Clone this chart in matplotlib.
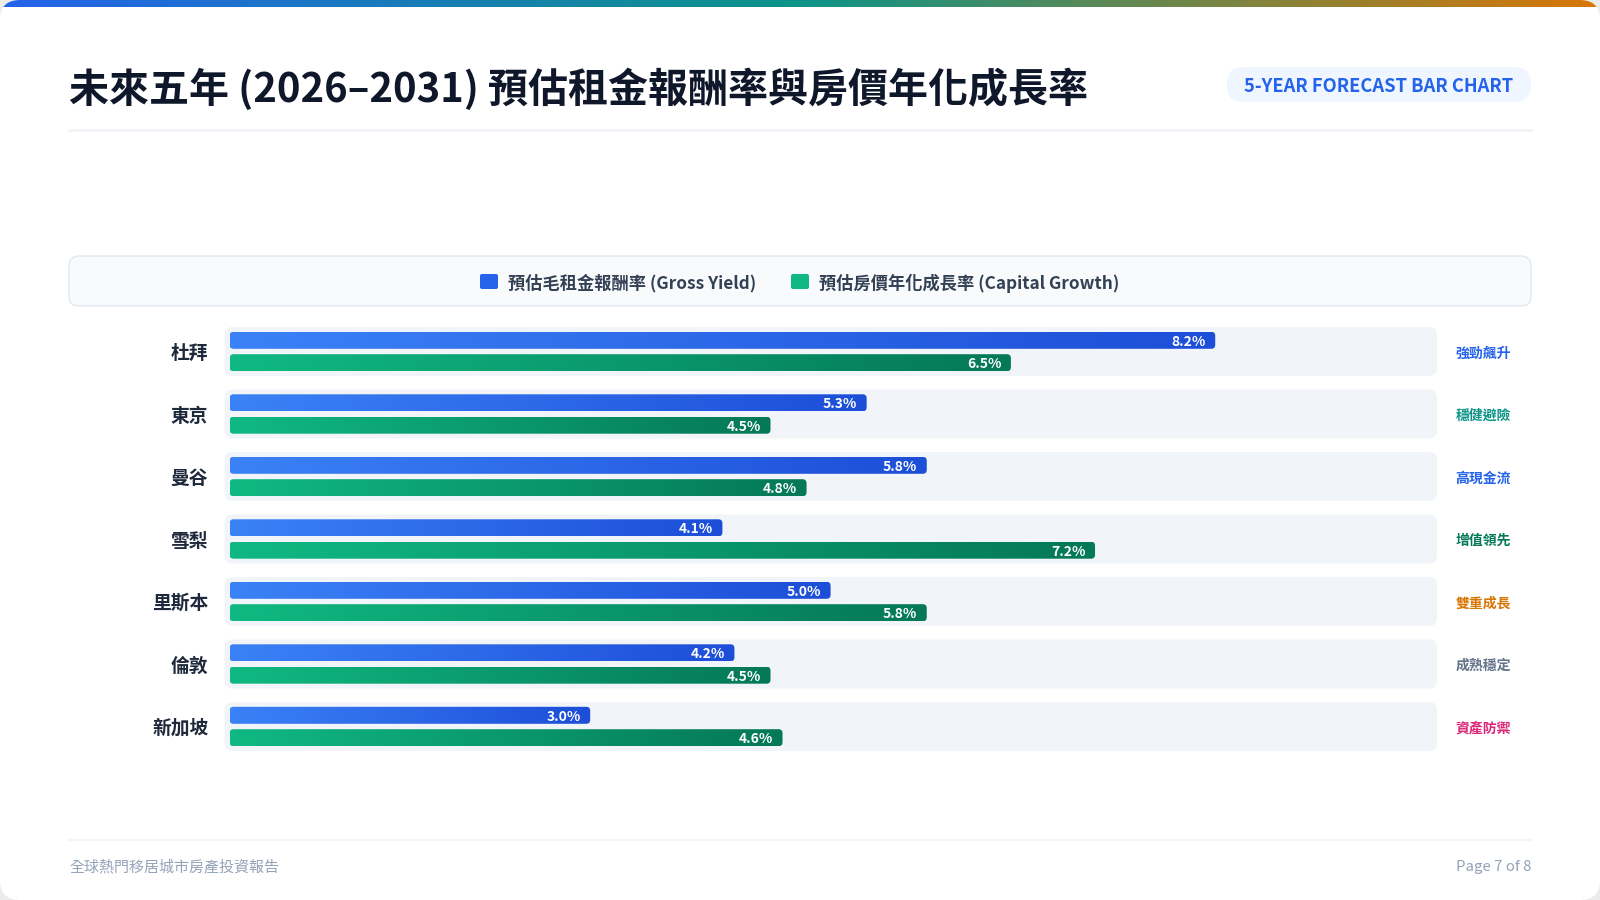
import numpy as np
import matplotlib.pyplot as plt
from matplotlib.patches import FancyBboxPatch
from matplotlib.colors import LinearSegmentedColormap

plt.rcParams['font.family'] = ['Noto Sans CJK TC', 'DejaVu Sans']

# data
cities = ['杜拜', '東京', '曼谷', '雪梨', '里斯本', '倫敦', '新加坡']
gross_yield = [8.2, 5.3, 5.8, 4.1, 5.0, 4.2, 3.0]
capital_growth = [6.5, 4.5, 4.8, 7.2, 5.8, 4.5, 4.6]
tags = ['強勁飆升', '穩健避險', '高現金流', '增值領先', '雙重成長', '成熟穩定', '資產防禦']
tag_colors = ['#2563eb', '#0d9488', '#2563eb', '#047857', '#d97706', '#64748b', '#db2777']
series_names = ['預估毛租金報酬率 (Gross Yield)', '預估房價年化成長率 (Capital Growth)']
x_max = 10

W, H = 1600, 900
fig = plt.figure(figsize=(16, 9), dpi=100, facecolor='#ececec')

# background / page decorations in pixel coordinates
bg = fig.add_axes([0, 0, 1, 1])
bg.set_xlim(0, W)
bg.set_ylim(H, 0)
bg.axis('off')

card = FancyBboxPatch((0, 0), W, H, boxstyle='round,pad=0,rounding_size=20',
                      fc='white', ec='none', zorder=1)
bg.add_patch(card)
top_cmap = LinearSegmentedColormap.from_list('top', ['#2563eb', '#0d9488', '#d97706'])
im = bg.imshow(np.linspace(0, 1, 256)[None, :], cmap=top_cmap,
               extent=[0, W, 7, 0], aspect='auto', zorder=2)
im.set_clip_path(card)

bg.text(69, 90, '未來五年 (2026–2031) 預估租金報酬率與房價年化成長率',
        fontsize=28.8, fontweight='bold', color='#0f172a', ha='left', va='center')
bg.add_patch(FancyBboxPatch((1227, 67), 304, 35, boxstyle='round,pad=0,rounding_size=17',
                            fc='#eff6ff', ec='none', zorder=2))
bg.text(1379, 86, '5-YEAR FORECAST BAR CHART', fontsize=13.2, fontweight='bold',
        color='#2563eb', ha='center', va='center', zorder=3)
bg.plot([69, 1531], [130, 130], color='#f1f5f9', lw=2, zorder=2)

# legend box
bg.add_patch(FancyBboxPatch((69, 256), 1462, 50, boxstyle='round,pad=0,rounding_size=10',
                            fc='#f8fafc', ec='#e2e8f0', lw=1, zorder=2))
leg_colors = ['#2563eb', '#10b981']
leg_x = [480, 791]
for name, c, lx in zip(series_names, leg_colors, leg_x):
    bg.add_patch(FancyBboxPatch((lx, 274), 18, 15, boxstyle='round,pad=0,rounding_size=2',
                                fc=c, ec='none', zorder=3))
    bg.text(lx + 28, 283, name, fontsize=12.4, fontweight='bold', color='#334155',
            ha='left', va='center', zorder=3)

# footer
bg.plot([69, 1531], [840, 840], color='#f1f5f9', lw=1.5, zorder=2)
bg.text(69, 867, '全球熱門移居城市房產投資報告', fontsize=10.8, color='#94a3b8',
        ha='left', va='center', zorder=3)
bg.text(1531, 867, 'Page 7 of 8', fontsize=10.8, color='#94a3b8', ha='right', va='center',
        zorder=3)

# chart axes
px_unit = 120.2          # pixels per 1 %
row_px = 62.5            # pixels per row
x0_px, y0_px = 229.6, 351.5
left_px = x0_px - 0.05 * px_unit
right_px = x0_px + (x_max + 0.05) * px_unit
top_px = y0_px - 0.5 * row_px
bot_px = y0_px + (len(cities) - 0.5) * row_px
ax = fig.add_axes([left_px / W, 1 - bot_px / H, (right_px - left_px) / W, (bot_px - top_px) / H])
ax.set_facecolor('none')
asp = px_unit / row_px

blue_cmap = LinearSegmentedColormap.from_list('blue', ['#3b82f6', '#1d4ed8'])
green_cmap = LinearSegmentedColormap.from_list('green', ['#10b981', '#047857'])


def grad_bar(x0, y0, w, h, cmap, r):
    patch = FancyBboxPatch((x0, y0), w, h, boxstyle=f'round,pad=0,rounding_size={r}',
                           mutation_aspect=asp, fc='none', ec='none')
    ax.add_patch(patch)
    img = ax.imshow(np.linspace(0, 1, 256)[None, :], cmap=cmap,
                    extent=[x0, x0 + w, y0 + h, y0], aspect='auto', zorder=3)
    img.set_clip_path(patch)


bar_h = 17 / row_px
off = 11.2 / row_px
rad = 4 / px_unit
for i in range(len(cities)):
    ax.add_patch(FancyBboxPatch((-0.042, i - 0.392), 10.087, 0.784,
                                boxstyle=f'round,pad=0,rounding_size={8 / px_unit}',
                                mutation_aspect=asp, fc='#f1f5f9', ec='none', zorder=1))
    for val, dy, cmap in [(gross_yield[i], -off, blue_cmap), (capital_growth[i], off, green_cmap)]:
        grad_bar(0, i + dy - bar_h / 2, val, bar_h, cmap, rad)
        ax.text(val - 0.08, i + dy + 0.025, f'{val:.1f}%', fontsize=10, fontweight='bold',
                color='white', ha='right', va='center', zorder=4)
    ax.text(10.2, i + 0.03, tags[i], fontsize=10, fontweight='bold', color=tag_colors[i],
            ha='left', va='center', clip_on=False)

ax.set_xlim(-0.05, x_max + 0.05)
ax.set_ylim(len(cities) - 0.5, -0.5)
ax.set_yticks(range(len(cities)))
ax.set_yticklabels(cities, fontsize=13.5, fontweight='bold', color='#1e293b')
ax.tick_params(axis='y', length=0, pad=11)
ax.set_xticks([])
for s in ax.spines.values():
    s.set_visible(False)

bg.set_xlim(0, W)
bg.set_ylim(H, 0)

fig.savefig('out.png', dpi=100, facecolor=fig.get_facecolor())
